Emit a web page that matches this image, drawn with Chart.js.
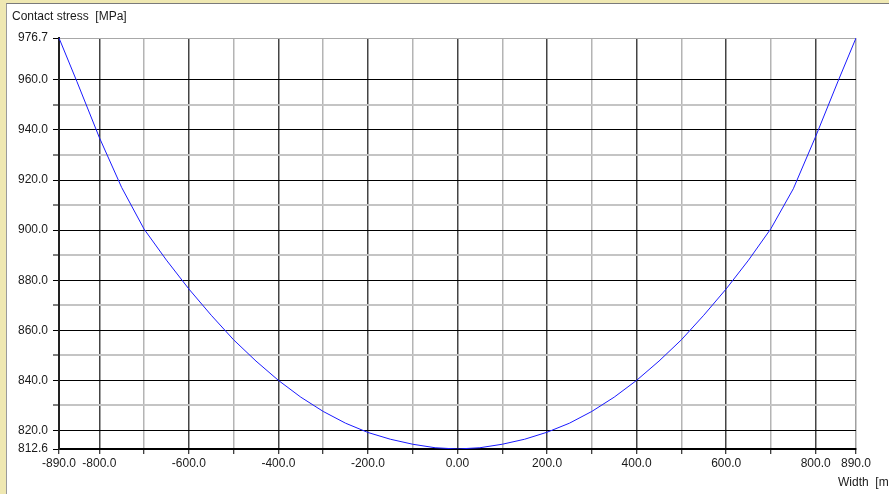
<!DOCTYPE html>
<html>
<head>
<meta charset="utf-8">
<script src="https://cdn.jsdelivr.net/npm/chart.js@4.4.1/dist/chart.umd.min.js"></script>
<style>
  html, body { margin: 0; padding: 0; width: 889px; height: 494px; overflow: hidden; background: #efe8b2; }
  #frame { position: absolute; left: 6px; top: 3px; width: 883px; height: 491px; border-left: 1px solid #9a9a9a; border-top: 1px solid #7a7a7a; background: #ffffff; box-sizing: border-box; }
  #wrap { position: absolute; left: 7px; top: 4px; width: 882px; height: 490px; }
  canvas { background: #ffffff; }
</style>
</head>
<body>
<div id="frame"></div>
<div id="wrap"><canvas id="c" width="882" height="490"></canvas></div>
<script>
// ---- data ----
const widthMm = [-890, -850, -800, -750, -700, -650, -600, -550, -500, -450, -400, -350, -300, -250, -200, -150, -100, -50, 0,
                 50, 100, 150, 200, 250, 300, 350, 400, 450, 500, 550, 600, 650, 700, 750, 800, 850, 890];
const stressMPa = [976.7, 959.3, 937.0, 917.0, 900.4, 888.0, 876.5, 866.0, 856.2, 847.7, 840.0, 833.3, 827.6, 822.9, 819.2, 816.5, 814.5, 813.1, 812.6,
                   813.1, 814.5, 816.5, 819.3, 822.9, 827.6, 833.3, 840.0, 847.7, 856.2, 866.0, 876.5, 888.0, 900.6, 916.5, 937.4, 959.5, 976.7];

const xTickValues = [-890, -800, -700, -600, -500, -400, -300, -200, -100, 0, 100, 200, 300, 400, 500, 600, 700, 800, 890];
const xTickLabels = ['-890.0', '-800.0', '', '-600.0', '', '-400.0', '', '-200.0', '', '0.00', '', '200.0', '', '400.0', '', '600.0', '', '800.0', '890.0'];
const yTickValues = [812.6, 820, 830, 840, 850, 860, 870, 880, 890, 900, 910, 920, 930, 940, 950, 960, 976.7];
const yTickLabels = ['812.6', '820.0', '', '840.0', '', '860.0', '', '880.0', '', '900.0', '', '920.0', '', '940.0', '', '960.0', '976.7'];

const yTitle = 'Contact stress  [MPa]';
const xTitle = 'Width  [mm]';

const FONT = '"Liberation Sans", Arial, sans-serif';

const xTitlePlugin = {
  id: 'xTitlePlugin',
  afterDraw(chart) {
    const ctx = chart.ctx;
    ctx.save();
    ctx.font = '12px ' + FONT;
    ctx.fillStyle = '#1a1a1a';
    ctx.textAlign = 'left';
    ctx.textBaseline = 'middle';
    ctx.fillText(xTitle, chart.chartArea.right - 18, chart.chartArea.bottom + 34);
    ctx.restore();
  }
};

new Chart(document.getElementById('c'), {
  type: 'line',
  data: {
    datasets: [{
      data: widthMm.map((x, i) => ({ x: x, y: stressMPa[i] })),
      borderColor: '#1a1aff',
      borderWidth: 1,
      pointRadius: 0,
      tension: 0,
      fill: false
    }]
  },
  options: {
    responsive: false,
    animation: false,
    layout: { padding: { left: 5, right: 33, top: 0, bottom: 0 } },
    plugins: {
      legend: { display: false },
      tooltip: { enabled: false },
      title: {
        display: true,
        text: yTitle,
        align: 'start',
        color: '#1a1a1a',
        font: { family: FONT, size: 12, weight: 'normal' },
        padding: { top: 5.5, bottom: 14.1 }
      }
    },
    scales: {
      x: {
        type: 'linear',
        min: -890,
        max: 890,
        afterBuildTicks(scale) { scale.ticks = xTickValues.map(v => ({ value: v })); },
        afterFit(scale) { scale.height = 45; },
        ticks: {
          autoSkip: false,
          maxRotation: 0,
          padding: 2,
          color: '#1a1a1a',
          font: { family: FONT, size: 12 },
          callback: (v, i) => xTickLabels[i]
        },
        grid: {
          drawTicks: true,
          tickLength: 5,
          tickColor: '#000000',
          tickWidth: 1,
          color: (ctx) => {
            const i = ctx.index;
            if (i === xTickValues.length - 1) return '#a0a0a0';
            return xTickLabels[i] ? '#444444' : '#b4b4b4';
          },
          lineWidth: 1.5
        },
        border: { display: true, color: '#000000', width: 2 }
      },
      y: {
        type: 'linear',
        min: 812.6,
        max: 976.7,
        afterBuildTicks(scale) { scale.ticks = yTickValues.map(v => ({ value: v })); },
        afterFit(scale) { scale.width = 47; },
        ticks: {
          autoSkip: false,
          padding: 5,
          color: '#1a1a1a',
          font: { family: FONT, size: 12 },
          callback: (v, i) => yTickLabels[i]
        },
        grid: {
          drawTicks: true,
          tickLength: 6,
          tickColor: '#000000',
          tickWidth: 1,
          color: (ctx) => {
            const i = ctx.index;
            if (i === yTickValues.length - 1) return '#a8a8a8';
            return yTickLabels[i] ? '#000000' : '#c4c4c4';
          },
          lineWidth: (ctx) => (yTickLabels[ctx.index] ? 1 : 2)
        },
        border: { display: true, color: '#222222', width: 2 }
      }
    }
  },
  plugins: [xTitlePlugin]
});
</script>
</body>
</html>
